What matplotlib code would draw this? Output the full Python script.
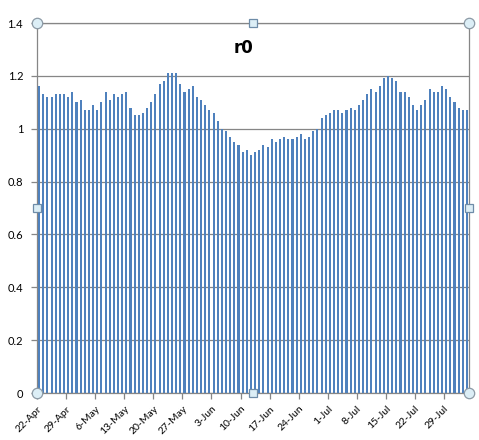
import numpy as np
import pandas as pd
import matplotlib
matplotlib.use("Agg")
import matplotlib.pyplot as plt

plt.rcParams['font.family'] = ['Lato', 'DejaVu Sans']

# daily r0 values, 22-Apr .. 3-Aug
r0 = [1.16, 1.13, 1.12, 1.12, 1.13, 1.13, 1.13, 1.12, 1.14, 1.10,
      1.11, 1.07, 1.07, 1.09, 1.07, 1.10, 1.14, 1.11, 1.13, 1.12,
      1.13, 1.14, 1.08, 1.05, 1.05, 1.06, 1.08, 1.10, 1.13, 1.17,
      1.18, 1.21, 1.21, 1.21, 1.17, 1.14, 1.15, 1.16, 1.12, 1.11,
      1.09, 1.07, 1.06, 1.03, 1.00, 0.99, 0.97, 0.95, 0.94, 0.91,
      0.92, 0.90, 0.91, 0.92, 0.94, 0.93, 0.96, 0.95, 0.96, 0.97,
      0.96, 0.96, 0.97, 0.98, 0.96, 0.97, 0.99, 1.00, 1.04, 1.05,
      1.06, 1.07, 1.07, 1.06, 1.07, 1.08, 1.07, 1.09, 1.11, 1.13,
      1.15, 1.14, 1.16, 1.19, 1.20, 1.19, 1.18, 1.14, 1.14, 1.12,
      1.09, 1.07, 1.09, 1.11, 1.15, 1.14, 1.14, 1.16, 1.15, 1.12,
      1.10, 1.08, 1.07, 1.07]
dates = pd.date_range("2020-04-22", periods=len(r0), freq="D")
week_labels = [d.strftime("%-d-%b") for d in dates[::7]]
y_ticks = [0, 0.2, 0.4, 0.6, 0.8, 1, 1.2, 1.4]
title = "r0"

bar_color = "#4F81BD"
grid_color = "#868686"

fig = plt.figure(figsize=(4.79, 4.40), dpi=100)
ax = fig.add_axes([37/479, 47/440, 432/479, 370/440])

x = np.arange(len(r0))
ax.bar(x, r0, width=0.5, color=bar_color, zorder=3)

ax.set_xlim(-0.5, len(r0) - 0.5)
ax.set_ylim(0, 1.4)
ax.set_yticks(y_ticks)
ax.set_yticklabels([("%g" % v) for v in y_ticks], fontsize=8)
ax.yaxis.grid(True, color=grid_color, linewidth=0.9, zorder=1)

ax.set_xticks(x[::7] - 0.5)
ax.set_xticklabels(week_labels, rotation=45, ha="right",
                   rotation_mode="anchor", fontsize=7.5)

ax.tick_params(axis="y", length=4, width=0.9, color=grid_color, pad=6)
ax.tick_params(axis="x", length=4, width=0.9, color=grid_color, pad=4)
for s in ax.spines.values():
    s.set_color(grid_color)
    s.set_linewidth(0.9)

ax.text(0.477, 0.932, title, transform=ax.transAxes, ha="center",
        va="center", fontsize=12, fontweight="bold", family="DejaVu Sans")

# selection handles (Excel look)
for px, py in [(0, 0), (0, 1), (1, 0), (1, 1)]:
    ax.plot(px, py, marker="o", markersize=7.5, markerfacecolor="#DCEEF6",
            markeredgecolor="#8C9AA6", markeredgewidth=0.9,
            transform=ax.transAxes, clip_on=False, zorder=10)
for px, py in [(0.5, 0), (0.5, 1), (0, 0.5), (1, 0.5)]:
    ax.plot(px, py, marker="s", markersize=5.5, markerfacecolor="#DCEEF6",
            markeredgecolor="#6E8CA8", markeredgewidth=0.9,
            transform=ax.transAxes, clip_on=False, zorder=10)

fig.savefig("out.png", dpi=100)
